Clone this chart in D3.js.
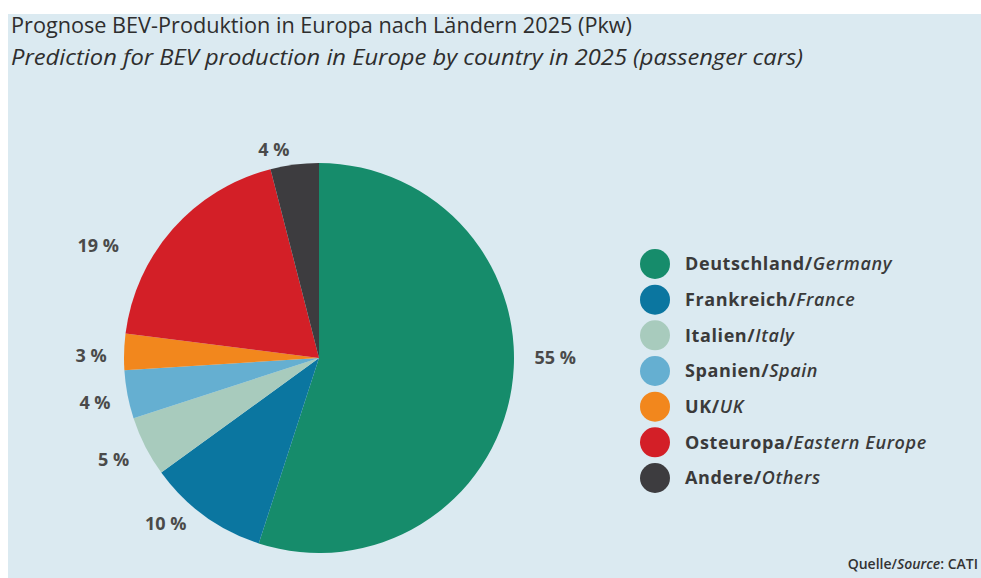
<!DOCTYPE html>
<html>
<head>
<meta charset="utf-8">
<script src="https://cdn.jsdelivr.net/npm/d3@7"></script>
<style>
  body { margin: 0; background: #fff; }
  svg { display: block; font-family: "Open Sans", "Noto Sans", sans-serif; }
  .title { font-size: 21.5px; font-weight: 500; fill: #2e2e2e; }
  .pct { font-size: 18px; font-weight: 700; fill: #4a4a4a; }
  .leg { font-size: 18px; font-weight: 700; fill: #3a3a3a; letter-spacing: 0.6px; }
  .leg .en { font-weight: 600; font-style: italic; }
</style>
</head>
<body>
<svg id="chart" width="981" height="578"></svg>
<script>

let countries_de = ["Deutschland", "Frankreich", "Italien", "Spanien", "UK", "Osteuropa", "Andere"]
let countries_en = ["Germany", "France", "Italy", "Spain", "UK", "Eastern Europe", "Others"]
let shares = [55, 10, 5, 4, 3, 19, 4]
let slice_cols = ["#168c6b", "#0b76a0", "#a8cbbd", "#65afd1", "#f2871d", "#d31f27", "#3d3c3f"]

let title_de = "Prognose BEV-Produktion in Europa nach Ländern 2025 (Pkw)"
let title_en = "Prediction for BEV production in Europe by country in 2025 (passenger cars)"

let svg = d3.select('#chart')
let W = +svg.attr('width'), H = +svg.attr('height')

// light blue panel
svg.append('rect')
    .attr('x', 8).attr('y', 14)
    .attr('width', W - 8).attr('height', H - 14)
    .attr('fill', '#dbeaf1')

// titles, squeezed to the width they take in the print
function fit(sel, w) {
    sel.attr('textLength', w).attr('lengthAdjust', 'spacingAndGlyphs')
}
svg.append('text').attr('class', 'title')
    .attr('x', 11).attr('y', 33)
    .text(title_de)
    .call(fit, 621)
svg.append('text').attr('class', 'title')
    .attr('x', 11).attr('y', 65)
    .attr('font-style', 'italic')
    .text(title_en)
    .call(fit, 792)

// pie
let cx = 319, cy = 358, R = 195

let pie = d3.pie().sort(null).value(d => d)
let arcs = pie(shares)

let arc = d3.arc().innerRadius(0).outerRadius(R)
let labelArc = d3.arc().innerRadius(225).outerRadius(225)

let g = svg.append('g').attr('transform', 'translate(' + cx + ',' + cy + ')')

g.selectAll('path.slice')
    .data(arcs)
    .join('path')
        .attr('class', 'slice')
        .attr('d', arc)
        .attr('fill', (d, i) => slice_cols[i])

// hand placed in the original, so nudge off the centroid
let nudge = [[14, -36], [-21, -16], [-5, 0], [-3, 3], [-3, 5], [-52, 36], [-17, 15]]

g.selectAll('text.pct')
    .data(arcs)
    .join('text')
        .attr('class', 'pct')
        .attr('text-anchor', 'middle')
        .attr('dy', '0.35em')
        .attr('x', (d, i) => labelArc.centroid(d)[0] + nudge[i][0])
        .attr('y', (d, i) => labelArc.centroid(d)[1] + nudge[i][1])
        .text(d => d.data + ' %')

// legend
let ly = d3.scalePoint()
    .domain(countries_de)
    .range([264, 478])

let leg = svg.append('g')
let rows = leg.selectAll('g')
    .data(countries_de)
    .join('g')
        .attr('transform', d => 'translate(655,' + ly(d) + ')')

rows.append('circle')
    .attr('r', 15)
    .attr('fill', (d, i) => slice_cols[i])

let lt = rows.append('text')
    .attr('class', 'leg')
    .attr('x', 30)
    .attr('dy', '0.35em')
lt.append('tspan').text(d => d + '/')
lt.append('tspan').attr('class', 'en').text((d, i) => countries_en[i])

// source
let src = svg.append('text')
    .attr('x', 978).attr('y', 569)
    .attr('text-anchor', 'end')
    .attr('font-size', 14)
    .attr('font-weight', 600)
    .attr('fill', '#333')
src.append('tspan').text('Quelle/')
src.append('tspan').attr('font-style', 'italic').text('Source')
src.append('tspan').text(': CATI')

</script>
</body>
</html>
